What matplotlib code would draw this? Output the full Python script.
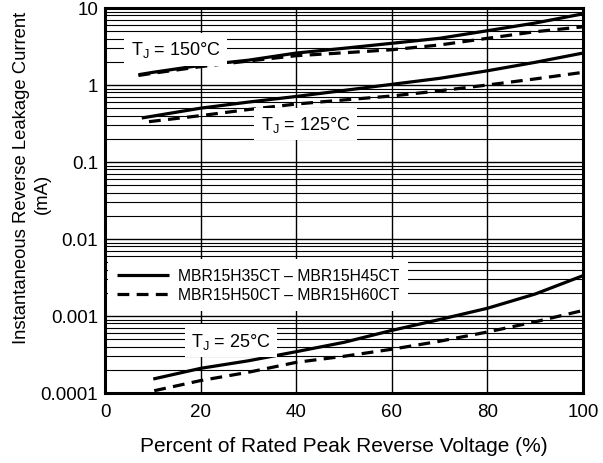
import matplotlib
matplotlib.use("Agg")
import matplotlib.pyplot as plt
import numpy as np
from matplotlib.ticker import LogLocator, FixedLocator, NullFormatter

plt.rcParams["font.family"] = ["Liberation Sans", "DejaVu Sans"]

# percent of rated peak reverse voltage vs leakage current (mA)
x_150_s = [7, 10, 20, 30, 40, 50, 60, 70, 80, 90, 100]
y_150_s = [1.36, 1.46, 1.8, 2.1, 2.6, 3.0, 3.48, 4.04, 5.07, 6.38, 8.4]
x_150_d = [7, 10, 20, 30, 40, 50, 60, 70, 80, 90, 100]
y_150_d = [1.33, 1.42, 1.73, 2.05, 2.4, 2.62, 2.87, 3.31, 4.04, 4.92, 5.7]

x_125_s = [7.7, 20, 30, 40, 50, 60, 70, 80, 90, 100]
y_125_s = [0.373, 0.50, 0.6, 0.71, 0.85, 1.02, 1.22, 1.53, 1.97, 2.6]
x_125_d = [9.2, 20, 30, 40, 50, 60, 70, 80, 90, 100]
y_125_d = [0.334, 0.40, 0.48, 0.566, 0.64, 0.72, 0.84, 1.0, 1.2, 1.46]

x_25_s = [10.1, 20, 30, 40, 50, 60, 70, 80, 90, 100]
y_25_s = [0.000152, 0.000209, 0.000262, 0.000344, 0.000455, 0.00065, 0.0009, 0.00126, 0.00193, 0.00334]
x_25_d = [10.3, 20, 30, 40, 50, 60, 70, 80, 90, 100]
y_25_d = [0.000107, 0.000145, 0.000186, 0.00025, 0.0003, 0.00037, 0.00047, 0.00062, 0.00084, 0.00118]

y_ticks = [0.0001, 0.001, 0.01, 0.1, 1, 10]
y_tick_labels = ["0.0001", "0.001", "0.01", "0.1", "1", "10"]
x_ticks = [0, 20, 40, 60, 80, 100]

legend_labels = ["MBR15H35CT \u2013 MBR15H45CT", "MBR15H50CT \u2013 MBR15H60CT"]

fig = plt.figure(figsize=(6.03, 4.64), dpi=100)
ax = fig.add_axes([105 / 603, 70 / 464, 478 / 603, 385 / 464])

ax.set_yscale("log")
ax.set_xlim(0, 100)
ax.set_ylim(0.0001, 10)

ax.yaxis.set_major_locator(FixedLocator(y_ticks))
ax.set_yticklabels(y_tick_labels)
ax.yaxis.set_minor_locator(LogLocator(base=10, subs=np.arange(2, 10), numticks=20))
ax.yaxis.set_minor_formatter(NullFormatter())
ax.xaxis.set_major_locator(FixedLocator(x_ticks))

ax.grid(True, which="major", axis="both", color="black", linewidth=1.0)
ax.grid(True, which="minor", axis="y", color="black", linewidth=0.8)
ax.tick_params(axis="both", which="both", length=0, labelsize=13.5, pad=7)
ax.tick_params(axis="y", pad=5)
for s in ax.spines.values():
    s.set_linewidth(2.2)

dash = (0, (3.7, 2.3))
lw = 2.3
ax.plot(x_150_s, y_150_s, color="black", lw=lw, solid_capstyle="butt")
ax.plot(x_150_d, y_150_d, color="black", lw=lw, linestyle=dash)
ax.plot(x_125_s, y_125_s, color="black", lw=lw, solid_capstyle="butt")
ax.plot(x_125_d, y_125_d, color="black", lw=lw, linestyle=dash)
h1, = ax.plot(x_25_s, y_25_s, color="black", lw=lw, solid_capstyle="butt")
h2, = ax.plot(x_25_d, y_25_d, color="black", lw=lw, linestyle=dash)

box = dict(facecolor="white", edgecolor="none", pad=4.5)
ax.text(14.8, 2.9, "T$_\\mathregular{J}$ = 150\u00b0C", fontsize=13, ha="center", va="center", bbox=box)
ax.text(42.0, 0.312, "T$_\\mathregular{J}$ = 125\u00b0C", fontsize=13, ha="center", va="center", bbox=box)
ax.text(26.4, 0.00048, "T$_\\mathregular{J}$ = 25\u00b0C", fontsize=13, ha="center", va="center", bbox=box)

leg = ax.legend([h1, h2], legend_labels, loc="upper left", bbox_to_anchor=(0.0, 0.355),
                fontsize=11.3, frameon=True, fancybox=False, edgecolor="none",
                framealpha=1, handlelength=3.3, handletextpad=0.6, borderaxespad=0.2,
                borderpad=0.55, labelspacing=0.25)

ax.set_xlabel("Percent of Rated Peak Reverse Voltage (%)", fontsize=15, labelpad=12)

# two-line y label, placed by hand like the reference
fig.text(22 / 603, 1 - 178 / 464, "Instantaneous Reverse Leakage Current", fontsize=13.3,
         rotation=90, ha="center", va="center")
fig.text(42 / 603, 1 - 194 / 464, "(mA)", fontsize=13.3, rotation=90, ha="center", va="center")

fig.savefig("out.png", dpi=100, facecolor="white")
